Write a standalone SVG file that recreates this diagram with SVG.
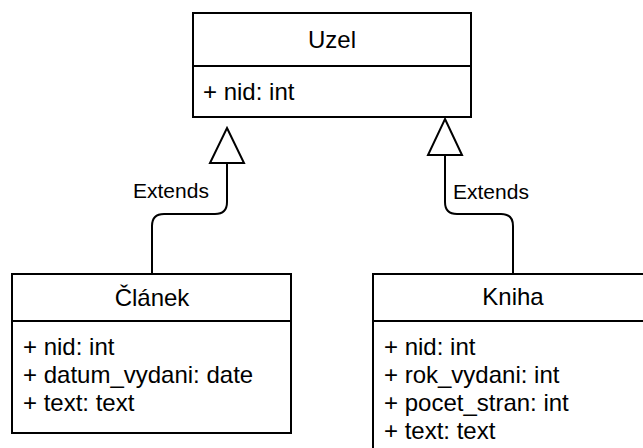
<svg xmlns="http://www.w3.org/2000/svg" width="643" height="448" viewBox="0 0 643 448">
  <style>
    .box { fill: #ffffff; stroke: #000000; stroke-width: 2; }
    .sep { stroke: #000000; stroke-width: 2; fill: none; }
    .title { font-family: "Liberation Sans", Arial, sans-serif; font-size: 24px; fill: #000000; text-anchor: middle; }
    .attr { font-family: "Liberation Sans", Arial, sans-serif; font-size: 24px; fill: #000000; }
    .edge { fill: none; stroke: #000000; stroke-width: 2; }
    .head { fill: #ffffff; stroke: #000000; stroke-width: 2; stroke-linejoin: miter; }
    .label { font-family: "Liberation Sans", Arial, sans-serif; font-size: 21px; fill: #000000; }
  </style>
  <rect width="643" height="448" fill="#ffffff"/>

  <!-- generalisation links -->
  <g id="connectors">
    <path class="edge" d="M152,274 V226 Q152,214 164,214 H215 Q227,214 227,202 V163"/>
    <polygon class="head" points="227,128 244,163 210,163"/>
    <text class="label" x="133" y="198">Extends</text>

    <path class="edge" d="M513,274 V226 Q513,214 501,214 H457 Q445,214 445,202 V155"/>
    <polygon class="head" points="445,119 462,155 428,155"/>
    <text class="label" x="453" y="199">Extends</text>
  </g>

  <!-- base class -->
  <g id="uzel">
    <rect class="box" x="193" y="13" width="278" height="104"/>
    <line class="sep" x1="193" y1="66" x2="471" y2="66"/>
    <text class="title" x="332" y="48">Uzel</text>
    <text class="attr" x="203" y="100">+ nid: int</text>
  </g>

  <!-- article class -->
  <g id="clanek">
    <rect class="box" x="12" y="274" width="279" height="159"/>
    <line class="sep" x1="12" y1="321" x2="291" y2="321"/>
    <text class="title" x="152" y="306">Článek</text>
    <text class="attr" x="23" y="355">+ nid: int</text>
    <text class="attr" x="23" y="383">+ datum_vydani: date</text>
    <text class="attr" x="23" y="411">+ text: text</text>
  </g>

  <!-- book class -->
  <g id="kniha">
    <rect class="box" x="373" y="274" width="280" height="190"/>
    <line class="sep" x1="373" y1="321" x2="653" y2="321"/>
    <text class="title" x="513" y="305">Kniha</text>
    <text class="attr" x="384" y="355">+ nid: int</text>
    <text class="attr" x="384" y="383">+ rok_vydani: int</text>
    <text class="attr" x="384" y="411">+ pocet_stran: int</text>
    <text class="attr" x="384" y="439">+ text: text</text>
  </g>
</svg>
